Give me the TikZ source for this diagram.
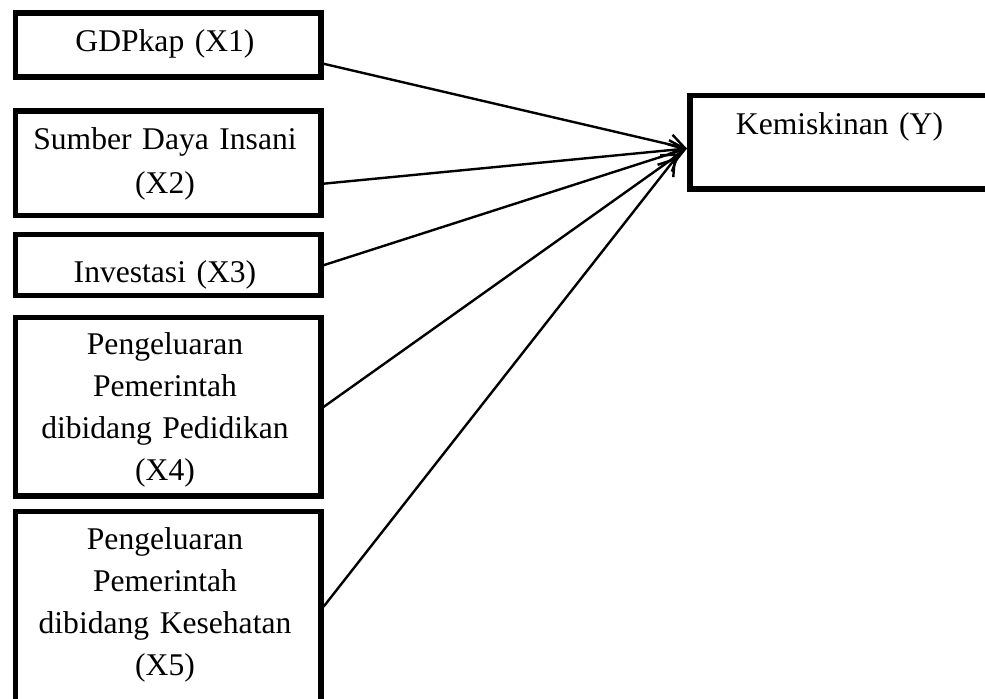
\documentclass[tikz,border=0pt]{standalone}
\usepackage{fontspec}
\setmainfont{Liberation Serif}
\usetikzlibrary{arrows.meta}
\begin{document}
\begin{tikzpicture}[x=0.5pt,y=-0.5pt,
  boxnode/.style={draw=black,line width=2.75pt,minimum width=152.75pt,inner sep=0pt,anchor=north west},
  lbl/.style={text width=150pt,align=center,inner sep=0pt,anchor=base,font=\fontsize{15.8pt}{21pt}\selectfont},
  arr/.style={line width=1.2pt,-{Straight Barb[length=7.5pt,width=10pt,line width=1.2pt]}}]
\useasboundingbox (0,0) rectangle (985,699);
\clip (0,0) rectangle (985,699);
% boxes
\node[boxnode,minimum height=32pt] (x1) at (12.5,10.5) {};
\node[boxnode,minimum height=52.25pt] (x2) at (12.5,108.5) {};
\node[boxnode,minimum height=30.5pt] (x3) at (12.5,232) {};
\node[boxnode,minimum height=89.25pt] (x4) at (12.5,315) {};
\node[boxnode,minimum height=105.5pt] (x5) at (12.5,509) {};
\node[boxnode,minimum width=161.5pt,minimum height=46.75pt] (y) at (687,93) {};
% texts
\node[lbl] (t1) at (165,52) {GDPkap (X1)};
\node[lbl] (t2) at (165,150) {Sumber Daya Insani\\[1pt](X2)};
\node[lbl] (t3) at (165,283) {Investasi (X3)};
\node[lbl] (t4) at (165,355) {Pengeluaran\\Pemerintah\\dibidang Pedidikan\\(X4)};
\node[lbl] (t5) at (165,550) {Pengeluaran\\Pemerintah\\dibidang Kesehatan\\(X5)};
\node[lbl] (ty) at (839.5,135) {Kemiskinan (Y)};
% connectors
\draw[arr] ([yshift=-9.25pt]x1.east) -- ([yshift=-3pt]y.west);
\draw[arr] ([yshift=-10.1pt]x2.east) -- ([yshift=-3pt]y.west);
\draw[arr] (x3.east) -- ([yshift=-3pt]y.west);
\draw[arr] (x4.east) -- ([xshift=-3.5pt,yshift=-5.5pt]y.west);
\draw[arr] ([yshift=5.25pt]x5.east) -- ([xshift=-5.5pt,yshift=-7.5pt]y.west);
\end{tikzpicture}
\end{document}
